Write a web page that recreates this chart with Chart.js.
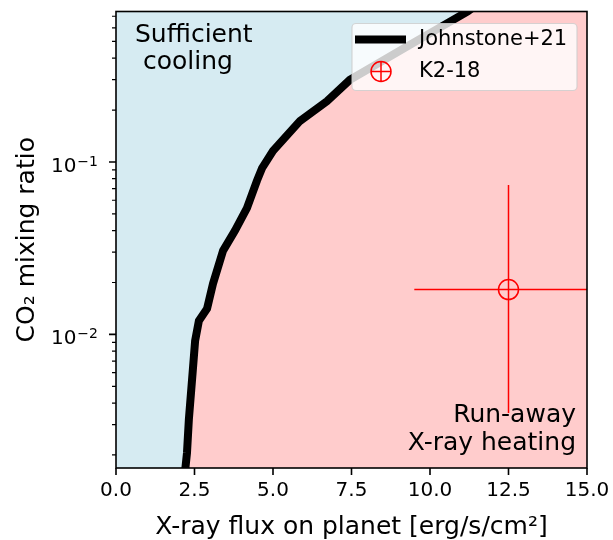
<!DOCTYPE html>
<html>
<head>
<meta charset="utf-8">
<script src="https://cdn.jsdelivr.net/npm/chart.js@4"></script>
<style>
  body { margin: 0; background: #fff; }
  #wrap { width: 613px; height: 540px; }
</style>
</head>
<body>
<div id="wrap"><canvas id="chart" width="613" height="540"></canvas></div>
<script>
// Johnstone+21 boundary
const curveX = [2.19, 2.26, 2.32, 2.44, 2.52, 2.64, 2.90, 3.09, 3.41, 3.79, 4.17, 4.49, 4.65, 5.00, 5.86, 6.72, 7.45, 9.2, 11.2, 15.0];
const curveY = [0.00155, 0.00205, 0.0032, 0.006, 0.0092, 0.012, 0.0141, 0.0197, 0.0306, 0.040, 0.054, 0.078, 0.092, 0.116, 0.173, 0.225, 0.30, 0.46, 0.746, 2.5];

// K2-18 point with error bars
const k2X = 12.5;
const k2Y = 0.0182;
const k2XErr = [9.5, 15.5];
const k2YErr = [0.0035, 0.0736];

// axes
const xMin = 0, xMax = 15;
const yMin = 0.00168, yMax = 0.746;
const xTicks = [0, 2.5, 5, 7.5, 10, 12.5, 15];
const yMajorTicks = [0.01, 0.1];
const yMajorExp = ['−2', '−1'];
const yMinorTicks = [0.002, 0.003, 0.004, 0.005, 0.006, 0.007, 0.008, 0.009,
                     0.02, 0.03, 0.04, 0.05, 0.06, 0.07, 0.08, 0.09,
                     0.2, 0.3, 0.4, 0.5, 0.6, 0.7];

const FONT = "'DejaVu Sans', sans-serif";
const BLUE = '#d6ebf2';
const PINK = '#ffcccc';

Chart.defaults.font.family = FONT;
Chart.defaults.color = '#000';

// blue plot background
const bgPlugin = {
    id: 'bg',
    beforeDraw(chart) {
        const { ctx, chartArea: a } = chart;
        ctx.save();
        ctx.fillStyle = BLUE;
        ctx.fillRect(a.left, a.top, a.right - a.left, a.bottom - a.top);
        ctx.restore();
    }
};

// region text, ticks, frame and legend
const decoPlugin = {
    id: 'deco',
    afterDatasetsDraw(chart) {
        const { ctx, chartArea: a, scales: { x, y } } = chart;
        ctx.save();

        // region labels
        ctx.fillStyle = '#000';
        ctx.font = '25px ' + FONT;
        ctx.textBaseline = 'alphabetic';
        ctx.textAlign = 'left';
        ctx.fillText('Sufficient', a.left + 19, a.top + 30);
        ctx.fillText(' cooling', a.left + 19, a.top + 57);
        ctx.textAlign = 'right';
        ctx.fillText('Run-away', a.right - 11, a.bottom - 46);
        ctx.fillText('X-ray heating', a.right - 11, a.bottom - 18);

        // y tick labels 10^n
        ctx.textAlign = 'right';
        yMajorTicks.forEach((v, i) => {
            const py = y.getPixelForValue(v);
            ctx.font = '14px ' + FONT;
            const ew = ctx.measureText(yMajorExp[i]).width;
            ctx.fillText(yMajorExp[i], a.left - 18, py + 4);
            ctx.font = '20px ' + FONT;
            ctx.fillText('10', a.left - 18 - ew - 1, py + 10);
        });

        // ticks
        ctx.strokeStyle = '#000';
        ctx.lineWidth = 1.6;
        ctx.beginPath();
        xTicks.forEach(v => {
            const px = x.getPixelForValue(v);
            ctx.moveTo(px, a.bottom);
            ctx.lineTo(px, a.bottom + 7);
        });
        yMajorTicks.forEach(v => {
            const py = y.getPixelForValue(v);
            ctx.moveTo(a.left, py);
            ctx.lineTo(a.left - 7, py);
        });
        ctx.stroke();
        ctx.lineWidth = 1.2;
        ctx.beginPath();
        yMinorTicks.forEach(v => {
            const py = y.getPixelForValue(v);
            ctx.moveTo(a.left, py);
            ctx.lineTo(a.left - 4, py);
        });
        ctx.stroke();

        // frame
        ctx.lineWidth = 1.6;
        ctx.strokeRect(a.left, a.top, a.right - a.left, a.bottom - a.top);

        // legend
        const lw = 225, lh = 67;
        const lx = a.right - 10 - lw, ly = a.top + 12;
        ctx.beginPath();
        ctx.roundRect(lx, ly, lw, lh, 4);
        ctx.fillStyle = 'rgba(255,255,255,0.8)';
        ctx.fill();
        ctx.strokeStyle = 'rgba(204,204,204,0.8)';
        ctx.lineWidth = 1.2;
        ctx.stroke();

        const ds = chart.data.datasets;
        // line handle
        ctx.strokeStyle = '#000';
        ctx.lineWidth = 8;
        ctx.beginPath();
        ctx.moveTo(lx + 3, ly + 16);
        ctx.lineTo(lx + 54, ly + 16);
        ctx.stroke();
        // marker handle
        const cx = lx + 29, cy = ly + 48;
        ctx.strokeStyle = 'red';
        ctx.lineWidth = 1.5;
        ctx.beginPath();
        ctx.arc(cx, cy, 10, 0, Math.PI * 2);
        ctx.moveTo(cx - 10, cy); ctx.lineTo(cx + 10, cy);
        ctx.moveTo(cx, cy - 10); ctx.lineTo(cx, cy + 10);
        ctx.stroke();

        ctx.fillStyle = '#000';
        ctx.font = '21px ' + FONT;
        ctx.textAlign = 'left';
        ctx.textBaseline = 'middle';
        ctx.fillText(ds[0].label, lx + 67, ly + 16);
        ctx.fillText(ds[1].label, lx + 67, ly + 48);

        ctx.restore();
    }
};

function noPad(s) {
    s.paddingLeft = 0; s.paddingRight = 0; s.paddingTop = 0; s.paddingBottom = 0;
}

const ctx = document.getElementById('chart').getContext('2d');
new Chart(ctx, {
    type: 'line',
    data: {
        datasets: [
            {
                label: 'Johnstone+21',
                data: curveX.map((v, i) => ({ x: v, y: curveY[i] })),
                borderColor: '#000',
                borderWidth: 8,
                backgroundColor: PINK,
                fill: 'start',
                pointRadius: 0,
                tension: 0,
                clip: 0
            },
            {
                label: 'K2-18',
                type: 'scatter',
                data: [{ x: k2X, y: k2Y }],
                pointStyle: 'circle',
                pointRadius: 10,
                pointBorderWidth: 1.5,
                pointBorderColor: 'red',
                pointBackgroundColor: 'rgba(0,0,0,0)',
                clip: 0
            },
            {
                label: 'xerr',
                data: k2XErr.map(v => ({ x: v, y: k2Y })),
                borderColor: 'red',
                borderWidth: 1.5,
                pointRadius: 0,
                fill: false,
                clip: 0
            },
            {
                label: 'yerr',
                data: k2YErr.map(v => ({ x: k2X, y: v })),
                borderColor: 'red',
                borderWidth: 1.5,
                pointRadius: 0,
                fill: false,
                clip: 0
            }
        ]
    },
    options: {
        responsive: false,
        animation: false,
        layout: { padding: { left: 0, right: 26, top: 10, bottom: 0 } },
        plugins: {
            legend: { display: false },
            tooltip: { enabled: false },
            filler: { drawTime: 'beforeDatasetsDraw' }
        },
        scales: {
            x: {
                type: 'linear',
                min: xMin,
                max: xMax,
                afterBuildTicks: s => { s.ticks = xTicks.map(v => ({ value: v })); },
                afterFit: s => { s.height = 72; noPad(s); },
                grid: { display: false, drawTicks: false },
                border: { display: false },
                ticks: {
                    color: '#000',
                    font: { family: FONT, size: 20 },
                    padding: 11,
                    maxRotation: 0,
                    autoSkip: false,
                    callback: v => v.toFixed(1)
                },
                title: {
                    display: true,
                    text: 'X-ray flux on planet [erg/s/cm²]',
                    color: '#000',
                    font: { family: FONT, size: 25 },
                    padding: { top: 0, bottom: -2 }
                }
            },
            y: {
                type: 'logarithmic',
                min: yMin,
                max: yMax,
                afterBuildTicks: s => {
                    s.ticks = yMajorTicks.map(v => ({ value: v, major: true }));
                },
                afterFit: s => { s.width = 116; noPad(s); },
                grid: { display: false, drawTicks: false },
                border: { display: false },
                ticks: {
                    display: false
                },
                title: {
                    display: true,
                    text: 'CO₂ mixing ratio',
                    color: '#000',
                    font: { family: FONT, size: 25 },
                    padding: { top: 12, bottom: 0 }
                }
            }
        }
    },
    plugins: [bgPlugin, decoPlugin]
});
</script>
</body>
</html>
